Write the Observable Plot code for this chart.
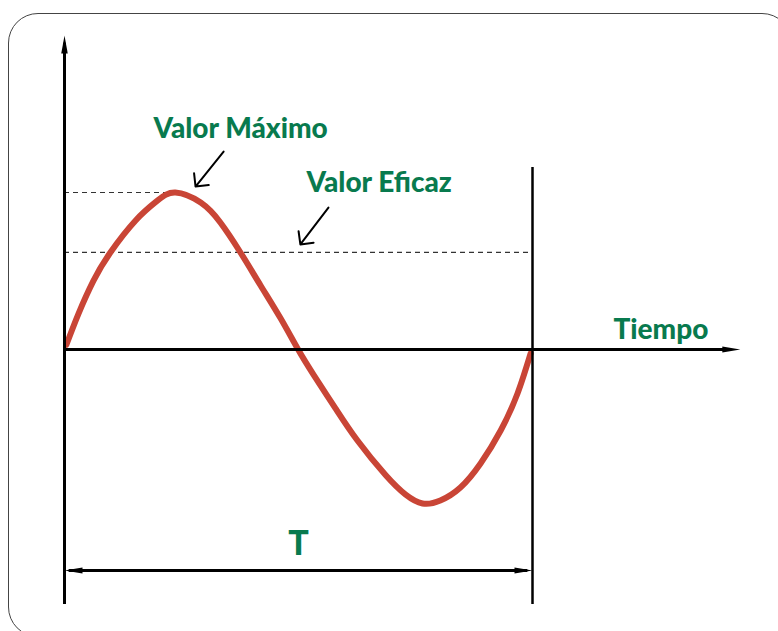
<!DOCTYPE html>
<html>
<head>
<meta charset="utf-8">
<script src="https://cdn.jsdelivr.net/npm/d3@7"></script>
<script src="https://cdn.jsdelivr.net/npm/@observablehq/plot@0.6"></script>
<style>
  html, body { margin: 0; padding: 0; background: #fff; overflow: hidden; }
  #wrap { position: relative; width: 778px; height: 631px; overflow: hidden; }
  #border { position: absolute; left: 8px; top: 13px; width: 784px; height: 624px;
            border: 1.5px solid #444; border-radius: 30px; box-sizing: border-box; }
  #chart { position: absolute; left: 0; top: 0; }
</style>
</head>
<body>
<div id="wrap"><div id="border"></div><div id="chart"></div></div>
<script>
// Curve: time as a fraction of the period T, value relative to the peak
const waveT = [0.004, 0.030, 0.062, 0.098, 0.152, 0.199, 0.237, 0.291, 0.333, 0.376, 0.419, 0.462, 0.498,
               0.532, 0.579, 0.626, 0.686, 0.729, 0.765, 0.803, 0.846, 0.889, 0.932, 0.968, 0.996];
const waveV = [0.03, 0.229, 0.439, 0.618, 0.822, 0.949, 1.000, 0.936, 0.809, 0.618, 0.408, 0.197, 0.006,
               -0.160, -0.375, -0.580, -0.800, -0.925, -0.981, -0.962, -0.879, -0.726, -0.516, -0.280, -0.025];
const peakValue = 1.0;     // "Valor Máximo"
const rmsValue = 0.618;    // "Valor Eficaz"
const period = 1.0;        // T
const labels = ["Valor Máximo", "Valor Eficaz", "Tiempo", "T"];

const wave = waveT.map((t, i) => ({t, v: waveV[i]}));

const green = "#087a4e";
const red = "#c94536";
const font = "Lato, 'Noto Sans', sans-serif";

// filled arrowhead, tip at the anchor point, pointing up before rotation
const arrowHead = {
  draw(ctx, size) {
    const w = Math.sqrt(size / Math.PI);
    ctx.moveTo(0, 0);
    ctx.lineTo(w, 18);
    ctx.lineTo(-w, 18);
    ctx.closePath();
  }
};

const yTop = 2.0, yBottom = -1.624, xRight = 1.444, tLevel = -1.408;

const heads = [
  {x: 0, y: yTop, rotate: 0, r: 7},
  {x: xRight, y: 0, rotate: 90, r: 6},
  {x: 0, y: tLevel, rotate: -90, r: 6},
  {x: period, y: tLevel, rotate: 90, r: 6}
];

const texts = [
  {x: 0.190, y: 1.350, text: labels[0], anchor: "start"},
  {x: 0.517, y: 1.006, text: labels[1], anchor: "start"},
  {x: 1.173, y: 0.070, text: labels[2], anchor: "start"},
  {x: 0.5, y: -1.312, text: labels[3], anchor: "middle"}
];

const pointers = [
  {x1: 0.340, y1: 1.261, x2: 0.280, y2: peakValue + 0.038},
  {x1: 0.564, y1: 0.904, x2: 0.504, y2: rmsValue + 0.051}
];

const plot = Plot.plot({
  width: 778,
  height: 631,
  margin: 0,
  x: {domain: [0, 1], range: [64, 532], axis: null},
  y: {domain: [-1, 1], range: [506, 192], axis: null},
  marks: [
    Plot.ruleY([peakValue], {x1: 0, x2: 0.254, stroke: "#333", strokeWidth: 1.2, strokeDasharray: "5,4"}),
    Plot.ruleY([rmsValue], {x1: 0, x2: period, stroke: "#333", strokeWidth: 1.2, strokeDasharray: "5,4"}),
    Plot.line(wave, {x: "t", y: "v", stroke: red, strokeWidth: 6, curve: "natural", strokeLinecap: "round"}),
    Plot.ruleX([0], {y1: yBottom, y2: yTop - 0.05, stroke: "#000", strokeWidth: 3}),
    Plot.ruleY([0], {x1: 0, x2: xRight - 0.02, stroke: "#000", strokeWidth: 3}),
    Plot.ruleX([period], {y1: yBottom, y2: 1.159, stroke: "#000", strokeWidth: 2.5}),
    Plot.ruleY([tLevel], {x1: 0.01, x2: period - 0.01, stroke: "#000", strokeWidth: 3}),
    Plot.dot(heads, {x: "x", y: "y", rotate: "rotate", r: "r", symbol: arrowHead, fill: "#000", stroke: null}),
    Plot.arrow(pointers, {x1: "x1", y1: "y1", x2: "x2", y2: "y2", stroke: "#000", strokeWidth: 2, headLength: 10, headAngle: 90}),
    Plot.text(texts.filter(d => d.anchor === "start"), {x: "x", y: "y", text: "text", textAnchor: "start", lineAnchor: "bottom",
      fill: green, fontSize: 28, fontWeight: 900, fontFamily: font}),
    Plot.text(texts.filter(d => d.anchor === "middle"), {x: "x", y: "y", text: "text", textAnchor: "middle", lineAnchor: "bottom",
      fill: green, fontSize: 34, fontWeight: 900, fontFamily: font})
  ]
});
plot.style.background = "transparent";
document.getElementById("chart").appendChild(plot);
</script>
</body>
</html>
